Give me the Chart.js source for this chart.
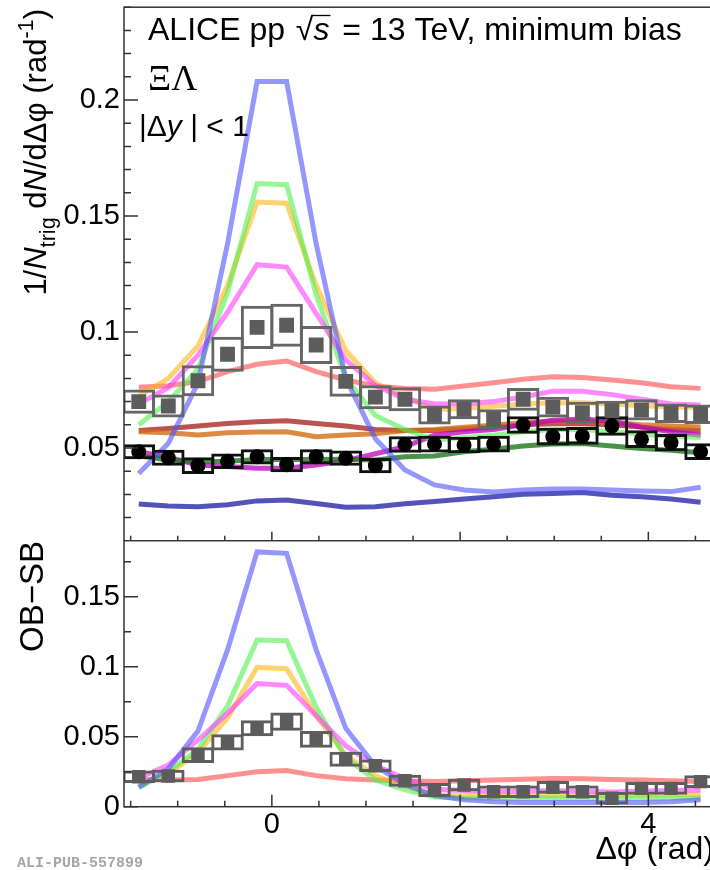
<!DOCTYPE html>
<html>
<head>
<meta charset="utf-8">
<script src="https://cdn.jsdelivr.net/npm/chart.js@4.4.1/dist/chart.umd.min.js"></script>
<style>
  html, body { margin: 0; padding: 0; width: 710px; height: 870px; overflow: hidden; background: #fff; }
  canvas { position: absolute; left: 0; }
  #topPanel { top: 0; }
  #bottomPanel { top: 540px; }
</style>
</head>
<body>
<canvas id="topPanel" width="730" height="541"></canvas>
<canvas id="bottomPanel" width="730" height="330"></canvas>
<script>
// Δφ bin centres (20 bins over -π/2 .. 3π/2)
const xCenters = [-1.414, -1.100, -0.785, -0.471, -0.157, 0.157, 0.471, 0.785, 1.100, 1.414,
                  1.728, 2.042, 2.356, 2.670, 2.985, 3.299, 3.613, 3.927, 4.241, 4.555];
const xTicks = [0, 2, 4];
const xTickLabels = ['0', '2', '4'];
const topYTicks = [0.05, 0.1, 0.15, 0.2];
const topYLabels = ['0.05', '0.1', '0.15', '0.2'];
const botYTicks = [0, 0.05, 0.1, 0.15];
const botYLabels = ['0', '0.05', '0.1', '0.15'];

// measured Ξ–Λ correlations: opposite-baryon (OB), same-baryon (SB) and OB−SB
const dataOB     = [0.0700, 0.0681, 0.0790, 0.0904, 0.1020, 0.1029, 0.0944, 0.0787, 0.0719, 0.0710,
                    0.0642, 0.0667, 0.0624, 0.0710, 0.0676, 0.0652, 0.0661, 0.0664, 0.0650, 0.0645];
const dataOBSyst = [0.0052, 0.0050, 0.0067, 0.0075, 0.0093, 0.0093, 0.0082, 0.0066, 0.0052, 0.0052,
                    0.0041, 0.0043, 0.0043, 0.0049, 0.0045, 0.0047, 0.0043, 0.0046, 0.0042, 0.0042];
const dataSB     = [0.0484, 0.0458, 0.0424, 0.0443, 0.0462, 0.0428, 0.0462, 0.0456, 0.0424, 0.0515,
                    0.0517, 0.0513, 0.0517, 0.0599, 0.0549, 0.0552, 0.0595, 0.0538, 0.0523, 0.0484];
const dataSBSyst = [0.0032, 0.0034, 0.0036, 0.0033, 0.0033, 0.0033, 0.0033, 0.0033, 0.0033, 0.0036,
                    0.0036, 0.0036, 0.0036, 0.0038, 0.0038, 0.0038, 0.0042, 0.0038, 0.0037, 0.0036];
const dataDiff     = [0.0214, 0.0219, 0.0369, 0.0460, 0.0560, 0.0607, 0.0481, 0.0339, 0.0293, 0.0186,
                      0.0119, 0.0155, 0.0107, 0.0107, 0.0138, 0.0107, 0.0060, 0.0131, 0.0131, 0.0179];
const dataDiffSyst = [0.0045, 0.0045, 0.0056, 0.0058, 0.0057, 0.0065, 0.0060, 0.0054, 0.0045, 0.0043,
                      0.0050, 0.0045, 0.0045, 0.0045, 0.0045, 0.0045, 0.0045, 0.0045, 0.0045, 0.0045];

// event generator curves, OB / SB / OB−SB
const gen1OB   = [0.0390, 0.0520, 0.0780, 0.1380, 0.2080, 0.2080, 0.1380, 0.0800, 0.0540, 0.0405,
                  0.0341, 0.0319, 0.0310, 0.0319, 0.0323, 0.0323, 0.0319, 0.0315, 0.0312, 0.0331];
const gen1SB   = [0.0259, 0.0250, 0.0247, 0.0255, 0.0272, 0.0276, 0.0261, 0.0245, 0.0247, 0.0260,
                  0.0269, 0.0280, 0.0290, 0.0301, 0.0304, 0.0308, 0.0296, 0.0290, 0.0280, 0.0266];
const gen1Diff = [0.0140, 0.0270, 0.0540, 0.1120, 0.1820, 0.1810, 0.1120, 0.0560, 0.0290, 0.0160,
                  0.0080, 0.0050, 0.0035, 0.0030, 0.0030, 0.0030, 0.0030, 0.0030, 0.0035, 0.0050];

const gen2OB   = [0.0600, 0.0700, 0.0840, 0.1170, 0.1640, 0.1635, 0.1160, 0.0800, 0.0640, 0.0580,
                  0.0535, 0.0545, 0.0555, 0.0570, 0.0580, 0.0580, 0.0570, 0.0560, 0.0550, 0.0545];
const gen2SB   = [0.0466, 0.0448, 0.0441, 0.0443, 0.0450, 0.0450, 0.0450, 0.0452, 0.0448, 0.0462,
                  0.0466, 0.0484, 0.0495, 0.0509, 0.0517, 0.0519, 0.0509, 0.0498, 0.0490, 0.0480];
const gen2Diff = [0.0135, 0.0250, 0.0410, 0.0720, 0.1190, 0.1185, 0.0710, 0.0350, 0.0190, 0.0120,
                  0.0070, 0.0062, 0.0060, 0.0060, 0.0062, 0.0061, 0.0061, 0.0062, 0.0060, 0.0062];

const gen3OB   = [0.0725, 0.0800, 0.0940, 0.1200, 0.1560, 0.1555, 0.1200, 0.0920, 0.0780, 0.0720,
                  0.0665, 0.0670, 0.0680, 0.0690, 0.0695, 0.0695, 0.0690, 0.0682, 0.0678, 0.0675];
const gen3SB   = [0.0570, 0.0566, 0.0556, 0.0566, 0.0569, 0.0570, 0.0549, 0.0556, 0.0561, 0.0575,
                  0.0580, 0.0590, 0.0598, 0.0610, 0.0615, 0.0615, 0.0610, 0.0600, 0.0595, 0.0590];
const gen3Diff = [0.0155, 0.0235, 0.0385, 0.0635, 0.0995, 0.0985, 0.0650, 0.0365, 0.0220, 0.0145,
                  0.0085, 0.0080, 0.0082, 0.0079, 0.0078, 0.0080, 0.0081, 0.0083, 0.0085, 0.0088];

const gen4OB   = [0.0690, 0.0760, 0.0900, 0.1085, 0.1290, 0.1280, 0.1080, 0.0880, 0.0770, 0.0710,
                  0.0690, 0.0690, 0.0700, 0.0720, 0.0745, 0.0745, 0.0730, 0.0710, 0.0690, 0.0685];
const gen4SB   = [0.0484, 0.0460, 0.0427, 0.0420, 0.0413, 0.0413, 0.0427, 0.0445, 0.0475, 0.0506,
                  0.0555, 0.0570, 0.0580, 0.0600, 0.0620, 0.0625, 0.0615, 0.0590, 0.0570, 0.0555];
const gen4Diff = [0.0203, 0.0298, 0.0476, 0.0667, 0.0880, 0.0867, 0.0650, 0.0435, 0.0295, 0.0200,
                  0.0125, 0.0115, 0.0110, 0.0110, 0.0115, 0.0110, 0.0105, 0.0110, 0.0115, 0.0120];

const gen5OB   = [0.0762, 0.0768, 0.0786, 0.0829, 0.0861, 0.0875, 0.0829, 0.0793, 0.0767, 0.0757,
                  0.0753, 0.0767, 0.0781, 0.0796, 0.0807, 0.0804, 0.0793, 0.0781, 0.0764, 0.0757];
const gen5SB   = [0.0575, 0.0584, 0.0595, 0.0606, 0.0613, 0.0617, 0.0606, 0.0595, 0.0580, 0.0575,
                  0.0575, 0.0582, 0.0590, 0.0600, 0.0605, 0.0605, 0.0600, 0.0590, 0.0580, 0.0575];
const gen5Diff = [0.0195, 0.0190, 0.0195, 0.0222, 0.0250, 0.0258, 0.0222, 0.0200, 0.0190, 0.0183,
                  0.0180, 0.0185, 0.0190, 0.0196, 0.0202, 0.0200, 0.0195, 0.0190, 0.0185, 0.0180];

const colOB = ['rgba(80,80,255,0.6)', 'rgba(80,240,80,0.6)', 'rgba(255,180,20,0.6)', 'rgba(255,60,255,0.6)', 'rgba(255,70,70,0.6)'];
const colSB = ['rgba(40,40,170,0.8)', 'rgba(30,120,30,0.8)', 'rgba(210,110,20,0.8)', 'rgba(190,0,190,0.75)', 'rgba(170,40,40,0.8)'];

const FAM = '"Liberation Sans", Arial, sans-serif';
const X_MIN = -Math.PI / 2, X_MAX = 3 * Math.PI / 2;

const pts = vals => xCenters.map((x, i) => ({x, y: vals[i]}));

function lineSet(vals, color, order) {
  return {type: 'line', data: pts(vals), borderColor: color, borderWidth: 5, pointRadius: 0,
          tension: 0, fill: false, order};
}
function boxSet(vals, errs, color) {
  return {type: 'bar', data: xCenters.map((x, i) => ({x, y: [vals[i] - errs[i], vals[i] + errs[i]]})),
          backgroundColor: 'rgba(0,0,0,0)', borderColor: color, borderWidth: 3, borderSkipped: false,
          grouped: false, barPercentage: 1.1, categoryPercentage: 1, order: 1};
}
function markerSet(vals, color, style, radius) {
  return {type: 'line', data: pts(vals), showLine: false, pointStyle: style, pointRadius: radius,
          pointBackgroundColor: color, pointBorderWidth: 0, order: 0};
}

function makeScales(yMin, yMax, yTicks, yLabels, xHeight) {
  return {
    x: {
      type: 'linear', min: X_MIN, max: X_MAX, offset: false, display: xHeight > 0,
      grid: {display: false, drawTicks: false}, border: {display: false},
      afterBuildTicks: s => { s.ticks = xTicks.map(v => ({value: v})); },
      afterFit: s => { s.height = xHeight; s.paddingLeft = 0; s.paddingRight = 0; },
      ticks: {font: {family: FAM, size: 29}, color: '#000', padding: 1, maxRotation: 0, autoSkip: false,
              callback: (v, i) => xTickLabels[i]}
    },
    y: {
      type: 'linear', min: yMin, max: yMax,
      grid: {display: false, drawTicks: false}, border: {display: false},
      afterBuildTicks: s => { s.ticks = yTicks.map(v => ({value: v})); },
      afterFit: s => { s.width = 124; s.paddingTop = 0; s.paddingBottom = 0; },
      ticks: {font: {family: FAM, size: 29}, color: '#000', padding: 4, autoSkip: false,
              callback: (v, i) => yLabels[i]}
    }
  };
}

// axis frame with ROOT-style ticks pointing into the pad
function frame(opt) {
  return {
    id: 'frame',
    afterDraw(chart) {
      const {ctx, chartArea: a, scales: {x, y}} = chart;
      ctx.save();
      ctx.strokeStyle = '#333';
      ctx.lineWidth = 1.5;
      ctx.strokeRect(a.left, a.top, a.right - a.left, a.bottom - a.top);
      ctx.beginPath();
      for (let k = Math.ceil(y.min / opt.yStep - 1e-6); k * opt.yStep <= y.max + 1e-9; k++) {
        const py = y.getPixelForValue(k * opt.yStep);
        const len = k % opt.yEvery === 0 ? opt.yMajor : opt.yMinor;
        ctx.moveTo(a.left, py);
        ctx.lineTo(a.left + len, py);
      }
      for (let k = Math.ceil(X_MIN / 0.5); k * 0.5 <= X_MAX; k++) {
        const px = x.getPixelForValue(k * 0.5);
        const len = k % 4 === 0 ? opt.xMajor : opt.xMinor;
        ctx.moveTo(px, a.bottom);
        ctx.lineTo(px, a.bottom - len);
      }
      ctx.stroke();
      ctx.restore();
      if (opt.text) opt.text(ctx, a);
    }
  };
}

function richWidth(ctx, parts) {
  let w = 0;
  for (const [t, font] of parts) { ctx.font = font; w += ctx.measureText(t).width; }
  return w;
}
function drawRich(ctx, parts, x, y) {
  let cx = x;
  for (const [t, font, dy] of parts) {
    ctx.font = font;
    ctx.fillText(t, cx, y + (dy || 0));
    cx += ctx.measureText(t).width;
  }
  return cx;
}

function topText(ctx) {
  ctx.save();
  ctx.fillStyle = '#000';
  ctx.textBaseline = 'alphabetic';
  // collision system label
  const f = 32;
  let cx = drawRich(ctx, [['ALICE pp ', `${f}px ${FAM}`]], 148, 40);
  ctx.font = `${f}px ${FAM}`;
  ctx.fillText('√', cx + 2, 40);
  const rx = cx + 2 + ctx.measureText('√').width;
  cx = drawRich(ctx, [['s', `italic ${f}px ${FAM}`]], rx, 40);
  ctx.strokeStyle = '#000';
  ctx.lineWidth = 1.3;
  ctx.beginPath();
  ctx.moveTo(rx - 1, 15.5);
  ctx.lineTo(cx + 1, 15.5);
  ctx.stroke();
  drawRich(ctx, [[' = 13 TeV, minimum bias', `${f}px ${FAM}`]], cx + 4, 40);

  ctx.font = `36px "Liberation Serif", "Times New Roman", serif`;
  ctx.fillText('ΞΛ', 148, 90);

  const g = 30;
  drawRich(ctx, [['|Δ', `${g}px ${FAM}`], ['y', `italic ${g}px ${FAM}`], [' | < 1', `${g}px ${FAM}`]], 139, 135.5);

  // rotated y-axis title
  const h = 31;
  const parts = [['1/', `${h}px ${FAM}`], ['N', `italic ${h}px ${FAM}`], ['trig', `${h * 0.7}px ${FAM}`, 9],
                 [' d', `${h}px ${FAM}`], ['N', `italic ${h}px ${FAM}`], ['/dΔφ (rad', `${h}px ${FAM}`],
                 ['-1', `${h * 0.7}px ${FAM}`, -13], [')', `${h}px ${FAM}`]];
  const w = richWidth(ctx, parts);
  ctx.translate(45.5, 9);
  ctx.rotate(-Math.PI / 2);
  drawRich(ctx, parts, -w, 0);
  ctx.restore();
}

function bottomText(ctx) {
  ctx.save();
  ctx.fillStyle = '#000';
  ctx.font = `32px ${FAM}`;
  ctx.textAlign = 'right';
  ctx.fillText('Δφ (rad)', 714, 319);
  ctx.textAlign = 'left';
  ctx.font = `bold 15px "Liberation Mono", "Courier New", monospace`;
  ctx.fillStyle = '#a6a6a6';
  ctx.fillText('ALI-PUB-557899', 17, 327);
  ctx.fillStyle = '#000';
  ctx.font = `33px ${FAM}`;
  ctx.textAlign = 'right';
  ctx.translate(43, 1);
  ctx.rotate(-Math.PI / 2);
  ctx.fillText('OB−SB', 0, 0);
  ctx.restore();
}

const common = {
  responsive: false, animation: false, devicePixelRatio: 1, events: [],
  plugins: {legend: {display: false}, tooltip: {enabled: false}}
};

new Chart(document.getElementById('topPanel'), {
  type: 'line',
  data: {
    datasets: [
      markerSet(dataSB, '#000', 'circle', 7.5),
      markerSet(dataOB, '#5c5c5c', 'rect', 10.5),
      boxSet(dataSB, dataSBSyst, '#111'),
      boxSet(dataOB, dataOBSyst, '#666'),
      lineSet(gen1OB, colOB[0], 2), lineSet(gen4OB, colOB[3], 2), lineSet(gen2OB, colOB[1], 2),
      lineSet(gen3OB, colOB[2], 2), lineSet(gen5OB, colOB[4], 2),
      lineSet(gen2SB, colSB[1], 3), lineSet(gen4SB, colSB[3], 3), lineSet(gen3SB, colSB[2], 3),
      lineSet(gen5SB, colSB[4], 3), lineSet(gen1SB, colSB[0], 3)
    ]
  },
  options: {
    ...common,
    layout: {autoPadding: false, padding: {top: 7.2, bottom: 0.2, left: 0, right: 14.6}},
    scales: makeScales(0.01, 0.24, topYTicks, topYLabels, 0)
  },
  plugins: [frame({yStep: 0.01, yEvery: 5, yMajor: 14, yMinor: 7, xMajor: 9, xMinor: 5, text: topText})]
});

new Chart(document.getElementById('bottomPanel'), {
  type: 'line',
  data: {
    datasets: [
      markerSet(dataDiff, '#5c5c5c', 'rect', 9.5),
      boxSet(dataDiff, dataDiffSyst, '#5e5e5e'),
      lineSet(gen1Diff, colOB[0], 2), lineSet(gen4Diff, colOB[3], 2), lineSet(gen2Diff, colOB[1], 2),
      lineSet(gen3Diff, colOB[2], 2), lineSet(gen5Diff, colOB[4], 2)
    ]
  },
  options: {
    ...common,
    layout: {autoPadding: false, padding: {top: 0.7, bottom: 0, left: 0, right: 14.6}},
    scales: makeScales(0, 0.19, botYTicks, botYLabels, 63.3)
  },
  plugins: [frame({yStep: 0.025, yEvery: 2, yMajor: 14, yMinor: 7, xMajor: 12, xMinor: 6, text: bottomText})]
});
</script>
</body>
</html>
